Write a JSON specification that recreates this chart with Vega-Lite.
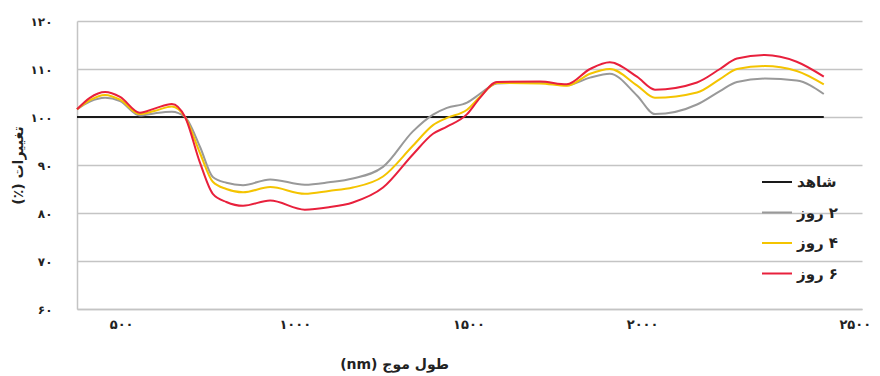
{
  "$schema": "https://vega.github.io/schema/vega-lite/v6.json",
  "width": 785,
  "height": 288,
  "autosize": "none",
  "padding": {"left": 77, "top": 21, "right": 18, "bottom": 67},
  "background": "white",
  "config": {
    "view": {"stroke": null},
    "font": "DejaVu Sans"
  },
  "data": {
    "values": [
      {"s": "شاهد", "nm": 350, "v": 100},
      {"s": "شاهد", "nm": 2500, "v": 100},
      {"s": "۲ روز", "nm": 350, "v": 101.6},
      {"s": "۲ روز", "nm": 387, "v": 103.2},
      {"s": "۲ روز", "nm": 431, "v": 104.0},
      {"s": "۲ روز", "nm": 474, "v": 103.3},
      {"s": "۲ روز", "nm": 531, "v": 100.3},
      {"s": "۲ روز", "nm": 575, "v": 100.8},
      {"s": "۲ روز", "nm": 623, "v": 101.1},
      {"s": "۲ روز", "nm": 661, "v": 100.0},
      {"s": "۲ روز", "nm": 704, "v": 93.8},
      {"s": "۲ روز", "nm": 741, "v": 87.5},
      {"s": "۲ روز", "nm": 780, "v": 86.3},
      {"s": "۲ روز", "nm": 828, "v": 85.8},
      {"s": "۲ روز", "nm": 906, "v": 87.0},
      {"s": "۲ روز", "nm": 1006, "v": 85.9},
      {"s": "۲ روز", "nm": 1075, "v": 86.4},
      {"s": "۲ روز", "nm": 1144, "v": 87.2},
      {"s": "۲ روز", "nm": 1231, "v": 89.6},
      {"s": "۲ روز", "nm": 1317, "v": 97.0},
      {"s": "۲ روز", "nm": 1375, "v": 100.5},
      {"s": "۲ روز", "nm": 1415, "v": 101.9},
      {"s": "۲ روز", "nm": 1473, "v": 103.0},
      {"s": "۲ روز", "nm": 1510, "v": 104.8},
      {"s": "۲ روز", "nm": 1559, "v": 107.0},
      {"s": "۲ روز", "nm": 1683, "v": 107.2},
      {"s": "۲ روز", "nm": 1760, "v": 106.6},
      {"s": "۲ روز", "nm": 1827, "v": 108.2},
      {"s": "۲ روز", "nm": 1884, "v": 109.0},
      {"s": "۲ روز", "nm": 1962, "v": 104.5},
      {"s": "۲ روز", "nm": 2014, "v": 100.6},
      {"s": "۲ روز", "nm": 2135, "v": 102.6},
      {"s": "۲ روز", "nm": 2201, "v": 105.4},
      {"s": "۲ روز", "nm": 2250, "v": 107.3},
      {"s": "۲ روز", "nm": 2330, "v": 108.0},
      {"s": "۲ روز", "nm": 2422, "v": 107.6},
      {"s": "۲ روز", "nm": 2500, "v": 104.8},
      {"s": "۴ روز", "nm": 350, "v": 101.6},
      {"s": "۴ روز", "nm": 387, "v": 103.5},
      {"s": "۴ روز", "nm": 431, "v": 104.6},
      {"s": "۴ روز", "nm": 474, "v": 103.6},
      {"s": "۴ روز", "nm": 531, "v": 100.6},
      {"s": "۴ روز", "nm": 575, "v": 101.3},
      {"s": "۴ روز", "nm": 623, "v": 102.2},
      {"s": "۴ روز", "nm": 661, "v": 100.0},
      {"s": "۴ روز", "nm": 704, "v": 92.5},
      {"s": "۴ روز", "nm": 741, "v": 86.5},
      {"s": "۴ روز", "nm": 780, "v": 85.0},
      {"s": "۴ روز", "nm": 828, "v": 84.3},
      {"s": "۴ روز", "nm": 906, "v": 85.4},
      {"s": "۴ روز", "nm": 1006, "v": 84.0},
      {"s": "۴ روز", "nm": 1075, "v": 84.6},
      {"s": "۴ روز", "nm": 1144, "v": 85.3},
      {"s": "۴ روز", "nm": 1231, "v": 87.6},
      {"s": "۴ روز", "nm": 1317, "v": 94.0},
      {"s": "۴ روز", "nm": 1375, "v": 98.3},
      {"s": "۴ روز", "nm": 1415, "v": 99.8},
      {"s": "۴ روز", "nm": 1473, "v": 101.5},
      {"s": "۴ روز", "nm": 1510, "v": 104.2},
      {"s": "۴ روز", "nm": 1559, "v": 107.1},
      {"s": "۴ روز", "nm": 1683, "v": 107.0},
      {"s": "۴ روز", "nm": 1760, "v": 106.5},
      {"s": "۴ روز", "nm": 1827, "v": 109.0},
      {"s": "۴ روز", "nm": 1884, "v": 110.0},
      {"s": "۴ روز", "nm": 1962, "v": 106.6},
      {"s": "۴ روز", "nm": 2014, "v": 104.0},
      {"s": "۴ روز", "nm": 2135, "v": 105.1},
      {"s": "۴ روز", "nm": 2201, "v": 107.9},
      {"s": "۴ روز", "nm": 2250, "v": 110.0},
      {"s": "۴ روز", "nm": 2330, "v": 110.6},
      {"s": "۴ روز", "nm": 2422, "v": 109.6},
      {"s": "۴ روز", "nm": 2500, "v": 106.8},
      {"s": "۶ روز", "nm": 350, "v": 101.6},
      {"s": "۶ روز", "nm": 387, "v": 104.0},
      {"s": "۶ روز", "nm": 431, "v": 105.2},
      {"s": "۶ روز", "nm": 474, "v": 104.2},
      {"s": "۶ روز", "nm": 531, "v": 100.9},
      {"s": "۶ روز", "nm": 575, "v": 101.8},
      {"s": "۶ روز", "nm": 623, "v": 102.7},
      {"s": "۶ روز", "nm": 661, "v": 100.0},
      {"s": "۶ روز", "nm": 704, "v": 90.5},
      {"s": "۶ روز", "nm": 741, "v": 84.0},
      {"s": "۶ روز", "nm": 780, "v": 82.3},
      {"s": "۶ روز", "nm": 828, "v": 81.5},
      {"s": "۶ روز", "nm": 906, "v": 82.6},
      {"s": "۶ روز", "nm": 1006, "v": 80.7},
      {"s": "۶ روز", "nm": 1075, "v": 81.2},
      {"s": "۶ روز", "nm": 1144, "v": 82.2},
      {"s": "۶ روز", "nm": 1231, "v": 85.3},
      {"s": "۶ روز", "nm": 1317, "v": 92.2},
      {"s": "۶ روز", "nm": 1375, "v": 96.5},
      {"s": "۶ روز", "nm": 1415, "v": 98.0},
      {"s": "۶ روز", "nm": 1473, "v": 100.6},
      {"s": "۶ روز", "nm": 1510, "v": 104.0},
      {"s": "۶ روز", "nm": 1559, "v": 107.3},
      {"s": "۶ روز", "nm": 1683, "v": 107.4},
      {"s": "۶ روز", "nm": 1760, "v": 106.8},
      {"s": "۶ روز", "nm": 1827, "v": 110.0},
      {"s": "۶ روز", "nm": 1884, "v": 111.4},
      {"s": "۶ روز", "nm": 1962, "v": 108.4},
      {"s": "۶ روز", "nm": 2014, "v": 105.7},
      {"s": "۶ روز", "nm": 2135, "v": 107.2},
      {"s": "۶ روز", "nm": 2201, "v": 110.0},
      {"s": "۶ روز", "nm": 2250, "v": 112.2},
      {"s": "۶ روز", "nm": 2330, "v": 112.9},
      {"s": "۶ روز", "nm": 2422, "v": 111.5},
      {"s": "۶ روز", "nm": 2500, "v": 108.4}
    ]
  },
  "mark": {"type": "line", "interpolate": "monotone", "strokeWidth": 2},
  "encoding": {
    "x": {
      "field": "nm",
      "type": "quantitative",
      "scale": {"domain": [350, 2610], "nice": false, "zero": false},
      "axis": {
        "values": [500, 1000, 1500, 2000, 2500],
        "labelExpr": "datum.value == 500 ? '۵۰۰' : datum.value == 1000 ? '۱۰۰۰' : datum.value == 1500 ? '۱۵۰۰' : datum.value == 2000 ? '۲۰۰۰' : '۲۵۰۰'",
        "labelOffset": {"condition": {"test": "datum.value == 2500", "value": 31}, "value": -8},
        "grid": false,
        "ticks": false,
        "domain": true,
        "domainColor": "#c4c4c4",
        "domainWidth": 1.5,
        "labelFont": "DejaVu Sans",
        "labelFontSize": 13,
        "labelFontWeight": "bold",
        "labelColor": "#222222",
        "labelPadding": 9,
        "title": "‫طول موج (nm)‬",
        "titleFont": "DejaVu Sans",
        "titleFontSize": 14,
        "titleFontWeight": "bold",
        "titleColor": "#222222",
        "titleX": 317,
        "titleY": 55,
        "titleBaseline": "middle"
      }
    },
    "y": {
      "field": "v",
      "type": "quantitative",
      "scale": {"domain": [60, 120], "nice": false, "zero": false},
      "axis": {
        "values": [60, 70, 80, 90, 100, 110, 120],
        "labelExpr": "datum.value == 60 ? '۶۰' : datum.value == 70 ? '۷۰' : datum.value == 80 ? '۸۰' : datum.value == 90 ? '۹۰' : datum.value == 100 ? '۱۰۰' : datum.value == 110 ? '۱۱۰' : '۱۲۰'",
        "grid": true,
        "gridColor": "#c4c4c4",
        "gridWidth": 1.5,
        "ticks": false,
        "domain": true,
        "domainColor": "#c4c4c4",
        "domainWidth": 1.5,
        "labelFont": "DejaVu Sans",
        "labelFontSize": 12,
        "labelFontWeight": "bold",
        "labelColor": "#222222",
        "labelPadding": 25,
        "title": "‫تغییرات (٪)‬",
        "titleFont": "DejaVu Sans",
        "titleFontSize": 14,
        "titleFontWeight": "bold",
        "titleColor": "#222222",
        "titleX": -59,
        "titleY": 144,
        "titleBaseline": "middle"
      }
    },
    "color": {
      "field": "s",
      "type": "nominal",
      "scale": {
        "domain": ["شاهد", "۲ روز", "۴ روز", "۶ روز"],
        "range": ["#1a1a1a", "#999999", "#f4c400", "#e8203c"]
      },
      "legend": {
        "orient": "none",
        "legendX": 684,
        "legendY": 145,
        "title": null,
        "symbolType": "stroke",
        "symbolSize": 900,
        "symbolStrokeWidth": 2,
        "rowPadding": 6.5,
        "labelFont": "DejaVu Sans",
        "labelFontSize": 15,
        "labelFontWeight": "bold",
        "labelColor": "#222222",
        "labelOffset": 4,
        "labelExpr": "'‫' + datum.label + '‬'"
      }
    }
  }
}
